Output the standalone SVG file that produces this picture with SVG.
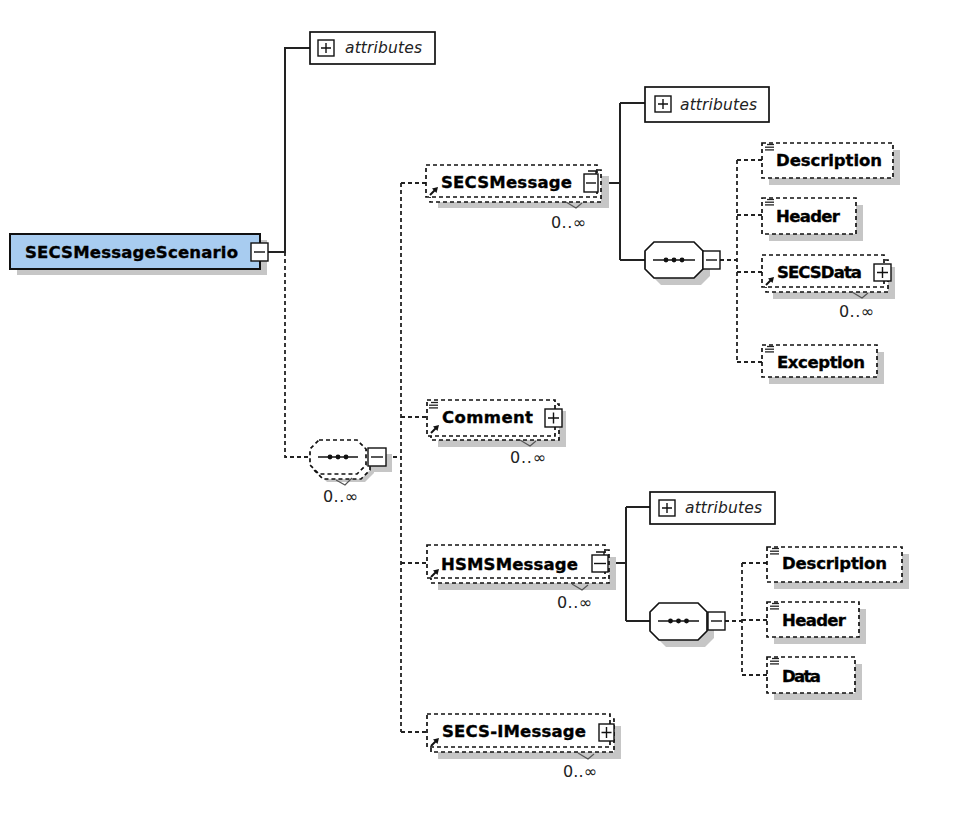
<svg xmlns="http://www.w3.org/2000/svg" xmlns:xlink="http://www.w3.org/1999/xlink" width="975" height="821" viewBox="0 0 975 821">
<style>
.bg{fill:#fff}
.sh{fill:#c6c6c6}
.db{fill:#fff;stroke:#111;stroke-width:1.7;stroke-dasharray:4 3}
.sb{fill:#fff;stroke:#111;stroke-width:1.7}
.pm{fill:#fff;stroke:#111;stroke-width:1.4}
.pl{stroke:#111;stroke-width:1.4;fill:none}
.cs{fill:none;stroke:#222;stroke-width:2}
.cd{fill:none;stroke:#222;stroke-width:1.8;stroke-dasharray:4 3}
.nm{font-family:"DejaVu Sans","Liberation Sans",sans-serif;font-weight:bold;font-size:16.5px;fill:#000;stroke:#000;stroke-width:0.35}
.at{font-family:"DejaVu Sans","Liberation Sans",sans-serif;font-style:italic;font-size:15.5px;fill:#222}
.oc{font-family:"DejaVu Sans","Liberation Sans",sans-serif;font-size:16px;fill:#222}
.tk{fill:none;stroke:#555;stroke-width:1.2}
</style>
<defs>
<g id="ref"><line x1="0" y1="8" x2="5" y2="3" stroke="#111" stroke-width="2"/><polygon points="2,1.5 8,0 6.5,6" fill="#111"/></g>
<g id="lines" stroke="#222" stroke-width="1.3"><line x1="2" y1="0.5" x2="9" y2="0.5"/><line x1="0" y1="3.2" x2="9" y2="3.2"/><line x1="0" y1="5.9" x2="9" y2="5.9"/></g>
<g id="dots" fill="#111"><circle cx="-8" cy="0" r="2.4"/><circle cx="0" cy="0" r="2.4"/><circle cx="8" cy="0" r="2.4"/></g>
</defs>
<rect class="bg" x="0" y="0" width="975" height="821"/>

<g id="connectors">
<path class="cs" d="M268,252 H285 V48 H310"/>
<path class="cs" d="M598,183 H620 M620,103 V260 M620,103 H645 M620,260 H645"/>
<path class="cs" d="M608,563 H626 M626,507 V621 M626,507 H650 M626,621 H650"/>
<path class="cd" d="M285,252 V457 H310"/>
<path class="cd" d="M386,457 H401 M401,183 V732 M401,183 H426 M401,417 H427 M401,563 H427 M401,732 H427"/>
<path class="cd" d="M720,260 H737 M737,160 V362 M737,160 H762 M737,215 H762 M737,272 H762 M737,362 H762"/>
<path class="cd" d="M725,621 H742 M742,563 V675 M742,563 H767 M742,620 H767 M742,675 H767"/>
</g>

<g id="root">
<rect class="sh" x="17" y="240" width="250" height="35"/>
<rect x="10" y="234" width="250" height="35" fill="#a8ccf0" stroke="#111" stroke-width="2"/>
<text class="nm" x="25" y="258" textLength="213">SECSMessageScenario</text>
<rect class="pm" x="251" y="243" width="17" height="18"/>
<path class="pl" d="M254,252 H265"/>
</g>

<g id="attributes-root">
<rect class="sb" x="310" y="32" width="125" height="32"/>
<rect class="pm" x="318" y="40" width="16" height="16"/>
<path class="pl" d="M321,48 H331 M326,43 V53"/>
<text class="at" x="345" y="53" textLength="77">attributes</text>
</g>

<g id="SECSMessage">
<rect class="sh" x="438" y="176" width="171" height="32"/>
<rect class="db" x="430" y="170" width="171" height="32"/>
<rect class="db" x="426" y="165" width="171" height="32"/>
<use xlink:href="#ref" x="430" y="187"/>
<text class="nm" x="441" y="188" textLength="131">SECSMessage</text>
<path class="pl" d="M588,171 H596 V174"/>
<rect class="pm" x="584" y="174" width="14" height="18"/>
<path class="pl" d="M586,183 H596"/>
<polyline class="tk" points="566,202 576,208 582,203"/>
<text class="oc" x="551" y="228" textLength="35">0..∞</text>
</g>

<g id="attributes-SECSMessage">
<rect class="sb" x="645" y="87" width="124" height="35"/>
<rect class="pm" x="655" y="96" width="16" height="16"/>
<path class="pl" d="M658,104 H668 M663,99 V109"/>
<text class="at" x="680" y="110" textLength="77">attributes</text>
</g>

<g id="sequence-SECSMessage">
<path class="sh" d="M661,249 H701 L710,258 V276 L701,285 H661 L652,276 V258 Z"/>
<path class="sb" d="M654,242 H694 L703,251 V269 L694,278 H654 L645,269 V251 Z"/>
<path class="pl" d="M653,260 H695"/>
<use xlink:href="#dots" x="674" y="260"/>
<rect class="pm" x="703" y="251" width="17" height="18"/>
<path class="pl" d="M706,260 H717"/>
</g>

<g id="Description-1">
<rect class="sh" x="769" y="150" width="131" height="35"/>
<rect class="db" x="762" y="143" width="131" height="35"/>
<use xlink:href="#lines" x="765" y="144"/>
<text class="nm" x="776" y="166" textLength="106">Description</text>
</g>

<g id="Header-1">
<rect class="sh" x="769" y="205" width="94" height="36"/>
<rect class="db" x="762" y="198" width="94" height="36"/>
<use xlink:href="#lines" x="765" y="199"/>
<text class="nm" x="776" y="222" textLength="64">Header</text>
</g>

<g id="SECSData">
<rect class="sh" x="773" y="267" width="122" height="32"/>
<rect class="db" x="766" y="260" width="122" height="32"/>
<rect class="db" x="762" y="255" width="122" height="32"/>
<use xlink:href="#ref" x="766" y="277"/>
<text class="nm" x="777" y="278" textLength="85">SECSData</text>
<rect class="pm" x="874" y="264" width="17" height="17"/>
<path class="pl" d="M877,272.5 H888 M882.5,267 V278"/>
<polyline class="tk" points="852,292 862,298 868,293"/>
<text class="oc" x="839" y="317" textLength="35">0..∞</text>
</g>

<g id="Exception">
<rect class="sh" x="769" y="352" width="115" height="32"/>
<rect class="db" x="762" y="345" width="115" height="32"/>
<use xlink:href="#lines" x="765" y="346"/>
<text class="nm" x="777" y="368" textLength="88">Exception</text>
</g>

<g id="sequence-root">
<path class="sh" d="M327,448 H365 L374,457 V473 L365,482 H327 L318,473 V457 Z"/>
<path class="db" d="M323,445 H361 L370,454 V470 L361,479 H323 L314,470 V454 Z"/>
<path class="db" d="M319,440 H357 L366,449 V465 L357,474 H319 L310,465 V449 Z"/>
<path class="pl" d="M318,457 H358"/>
<use xlink:href="#dots" x="338" y="457"/>
<rect class="sh" x="374" y="454" width="18" height="18"/>
<rect class="pm" x="368" y="448" width="18" height="18"/>
<path class="pl" d="M371,457 H383"/>
<polyline class="tk" points="336,480 345,485 352,478"/>
<text class="oc" x="323" y="502" textLength="35">0..∞</text>
</g>

<g id="Comment">
<rect class="sh" x="438" y="411" width="128" height="36"/>
<rect class="db" x="431" y="404" width="128" height="36"/>
<rect class="db" x="427" y="400" width="128" height="36"/>
<use xlink:href="#lines" x="429" y="402"/>
<use xlink:href="#ref" x="431" y="425"/>
<text class="nm" x="442" y="423" textLength="91">Comment</text>
<rect class="pm" x="545" y="409" width="17" height="18"/>
<path class="pl" d="M548,418 H559 M553.5,412.5 V423.5"/>
<polyline class="tk" points="520,440 530,446 536,441"/>
<text class="oc" x="510" y="463" textLength="36">0..∞</text>
</g>

<g id="HSMSMessage">
<rect class="sh" x="438" y="557" width="178" height="33"/>
<rect class="db" x="431" y="550" width="178" height="33"/>
<rect class="db" x="427" y="545" width="178" height="33"/>
<use xlink:href="#ref" x="431" y="569"/>
<text class="nm" x="441" y="570" textLength="137">HSMSMessage</text>
<path class="pl" d="M596,552 H604 V555"/>
<rect class="pm" x="592" y="555" width="16" height="17"/>
<path class="pl" d="M594,563.5 H606"/>
<polyline class="tk" points="572,584 582,590 588,585"/>
<text class="oc" x="557" y="608" textLength="35">0..∞</text>
</g>

<g id="attributes-HSMSMessage">
<rect class="sb" x="650" y="492" width="125" height="32"/>
<rect class="pm" x="659" y="500" width="16" height="16"/>
<path class="pl" d="M662,508 H672 M667,503 V513"/>
<text class="at" x="685" y="513" textLength="77">attributes</text>
</g>

<g id="sequence-HSMSMessage">
<path class="sh" d="M666,610 H705 L714,619 V638 L705,647 H666 L657,638 V619 Z"/>
<path class="sb" d="M659,603 H698 L707,612 V631 L698,640 H659 L650,631 V612 Z"/>
<path class="pl" d="M658,621 H699"/>
<use xlink:href="#dots" x="678.5" y="621"/>
<rect class="pm" x="708" y="612" width="17" height="18"/>
<path class="pl" d="M711,621 H722"/>
</g>

<g id="Description-2">
<rect class="sh" x="774" y="554" width="135" height="35"/>
<rect class="db" x="767" y="547" width="135" height="35"/>
<use xlink:href="#lines" x="770" y="548"/>
<text class="nm" x="782" y="569" textLength="105">Description</text>
</g>

<g id="Header-2">
<rect class="sh" x="774" y="609" width="92" height="35"/>
<rect class="db" x="767" y="602" width="92" height="35"/>
<use xlink:href="#lines" x="770" y="603"/>
<text class="nm" x="782" y="626" textLength="64">Header</text>
</g>

<g id="Data">
<rect class="sh" x="774" y="664" width="88" height="36"/>
<rect class="db" x="767" y="657" width="88" height="36"/>
<use xlink:href="#lines" x="770" y="658"/>
<text class="nm" x="782" y="682" textLength="39">Data</text>
</g>

<g id="SECS-IMessage">
<rect class="sh" x="438" y="726" width="183" height="33"/>
<rect class="db" x="431" y="719" width="183" height="33"/>
<rect class="db" x="427" y="714" width="183" height="33"/>
<use xlink:href="#ref" x="431" y="738"/>
<text class="nm" x="442" y="737" textLength="144">SECS-IMessage</text>
<rect class="pm" x="599" y="724" width="15" height="17"/>
<path class="pl" d="M601.5,732.5 H611.5 M606.5,727 V738"/>
<polyline class="tk" points="578,753 588,759 594,754"/>
<text class="oc" x="563" y="777" textLength="34">0..∞</text>
</g>
</svg>
